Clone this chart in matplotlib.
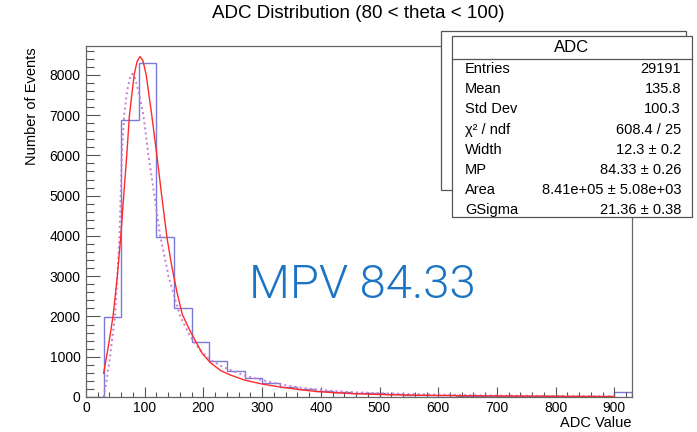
import numpy as np
import matplotlib
matplotlib.use('Agg')
import matplotlib.pyplot as plt
from matplotlib.patches import Rectangle
from matplotlib.ticker import MultipleLocator

plt.rcParams['font.family'] = ['Liberation Sans', 'DejaVu Sans']

# histogram: 30-wide bins from 0 to 930
bin_edges = np.arange(0, 931, 30)
counts = [0, 1976, 6884, 8297, 3974, 2198, 1355, 890, 650, 480, 340, 260, 200,
          160, 120, 110, 90, 70, 60, 45, 40, 35, 30, 25, 20, 18, 15, 12, 10, 8, 115]

# Landau x Gauss fit (red)
fit_x = [30, 38, 46, 53, 59, 64, 69.4, 74, 82, 87, 92, 97, 102.5, 112, 120.7, 129,
         138, 146, 155, 164, 178, 198, 212, 230, 246, 270, 300, 330, 360, 390, 422,
         460, 500, 550, 600, 650, 700, 750, 800, 850, 900]
fit_y = [590, 1250, 2000, 2950, 3950, 4950, 6000, 7000, 8000, 8330, 8453, 8350, 8000,
         7000, 6000, 4990, 3950, 3250, 2600, 2050, 1620, 1080, 850, 650, 545, 420, 322,
         250, 190, 140, 107, 80, 62, 48, 38, 31, 26, 22, 18, 15, 13]

# second fit (dotted violet)
alt_x = [30, 35, 41, 45, 49.5, 53, 57, 59, 61, 65, 70, 76, 79.5, 84, 90, 97.8, 106.4,
         116.6, 126.4, 140.5, 160.5, 177.6, 195, 212, 230, 246, 270, 300, 330, 360, 390,
         422, 460, 500, 550, 600, 650, 700, 750, 800, 850, 900]
alt_y = [0, 400, 1000, 1500, 2000, 2900, 4000, 5000, 6000, 7000, 7600, 8000, 8024, 7900,
         7550, 7000, 6000, 5000, 4000, 3000, 2000, 1500, 1150, 917, 770, 669, 530, 421,
         320, 240, 190, 149, 115, 95, 75, 58, 46, 37, 30, 25, 20, 16]

stat_labels = ['Entries', 'Mean', 'Std Dev', 'χ² / ndf', 'Width', 'MP', 'Area', 'GSigma']
stat_values = ['29191', '135.8', '100.3', '608.4 / 25', '12.3 ± 0.2', '84.33 ± 0.26',
               '8.41e+05 ± 5.08e+03', '21.36 ± 0.38']

W, H = 697, 432
fig = plt.figure(figsize=(W / 100, H / 100), dpi=100)
ax = fig.add_axes([86 / W, 1 - 397 / H, (632 - 86) / W, (397 - 46) / H])

ax.stairs(counts, bin_edges, color='#7a7ad8', lw=1.0)
ax.plot(alt_x, alt_y, color='#c97ad6', lw=1.4, ls=':')
ax.plot(fit_x, fit_y, color='#ff2a2a', lw=1.0)

ax.set_xlim(0, 930)
ax.set_ylim(0, 8715)
ax.xaxis.set_major_locator(MultipleLocator(100))
ax.xaxis.set_minor_locator(MultipleLocator(20))
ax.yaxis.set_major_locator(MultipleLocator(1000))
ax.yaxis.set_minor_locator(MultipleLocator(200))
ax.tick_params(axis='x', which='major', direction='in', length=7.5, width=0.8,
               color='#555555', labelsize=10, pad=3)
ax.tick_params(axis='x', which='minor', direction='in', length=3.8, width=0.8, color='#555555')
ax.tick_params(axis='y', which='major', direction='in', length=10, width=0.8,
               color='#555555', labelsize=10, pad=4)
ax.tick_params(axis='y', which='minor', direction='in', length=5.5, width=0.8, color='#555555')
for sp in ax.spines.values():
    sp.set_color('#666666')
    sp.set_linewidth(0.9)

fig.text(358 / W, 1 - 14 / H, 'ADC Distribution (80 < theta < 100)', ha='center',
         va='center', fontsize=13.5)
fig.text(32 / W, 1 - 47 / H, 'Number of Events', rotation=90, ha='center', va='top',
         fontsize=10.5)
fig.text(632 / W, 1 - 423 / H, 'ADC Value', ha='right', va='center', fontsize=10.5)

ax.text(470, 2770, 'MPV 84.33', ha='center', va='center', fontsize=34,
        color='#1c74c4', family=['Roboto', 'Liberation Sans'], fontweight=300)


def px_rect(x0, y0, x1, y1, **kw):
    r = Rectangle((x0 / W, 1 - y1 / H), (x1 - x0) / W, (y1 - y0) / H,
                  transform=fig.transFigure, facecolor='white', edgecolor='#555555',
                  lw=0.9, **kw)
    fig.add_artist(r)


# stats box of an earlier fit sitting behind
px_rect(441, 31, 686, 190, zorder=5)
# main stats box
px_rect(452, 36, 692, 217, zorder=6)
fig.add_artist(plt.Line2D([452 / W, 692 / W], [1 - 59 / H, 1 - 59 / H],
                          transform=fig.transFigure, color='#555555', lw=0.9, zorder=7))
fig.text(572 / W, 1 - 48 / H, 'ADC', ha='center', va='center', fontsize=12, zorder=8)
for i, (lab, val) in enumerate(zip(stat_labels, stat_values)):
    yy = 1 - (69 + 20.2 * i) / H
    fig.text(465 / W, yy, lab, ha='left', va='center', fontsize=10.5, zorder=8)
    fig.text(681 / W, yy, val, ha='right', va='center', fontsize=10.5, zorder=8)

fig.savefig('out.png', dpi=100)
